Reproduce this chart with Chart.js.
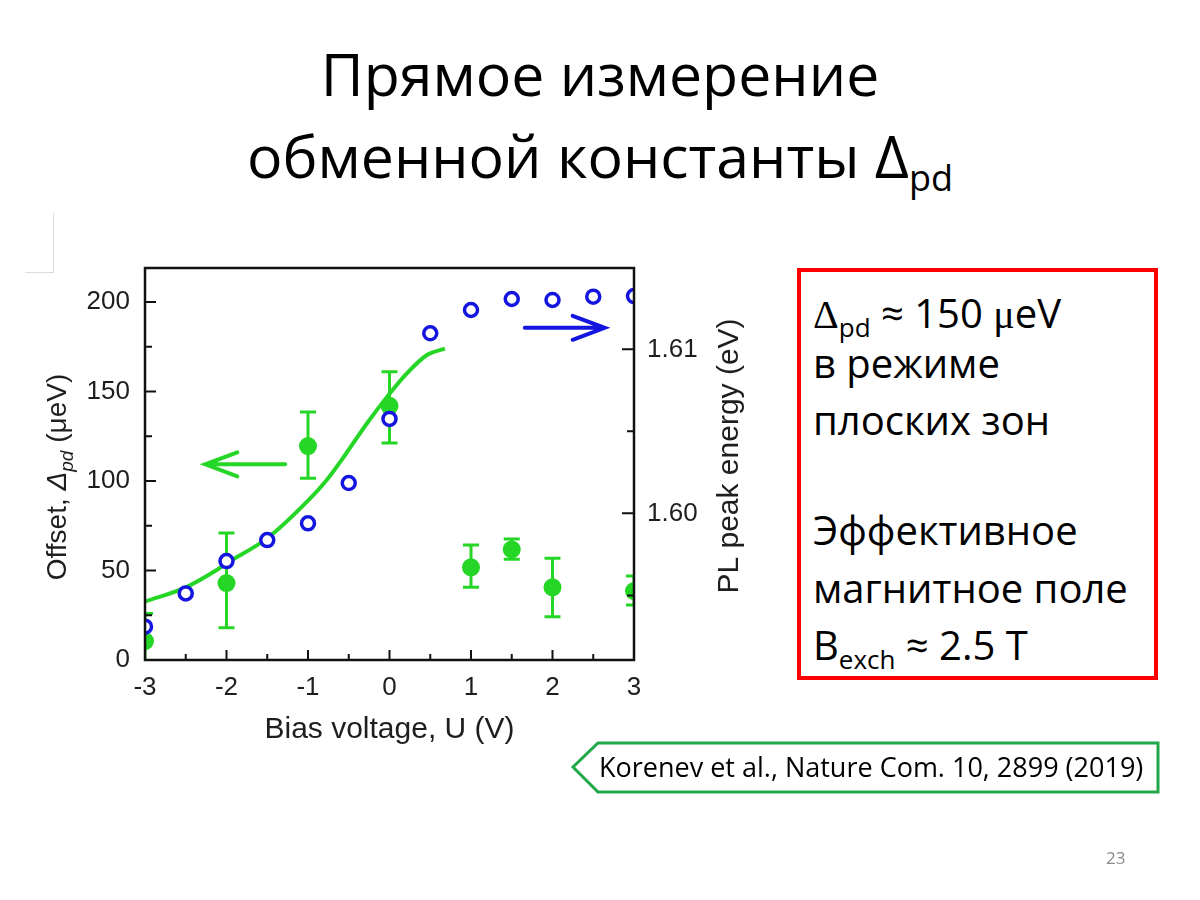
<!DOCTYPE html>
<html>
<head>
<meta charset="utf-8">
<script src="https://cdn.jsdelivr.net/npm/chart.js@4.4.0/dist/chart.umd.min.js"></script>
<style>
  body { margin: 0; width: 1200px; height: 900px; position: relative; overflow: hidden; background: #fff; font-family: "Open Sans", sans-serif; color: #000; }
  .title { position: absolute; left: 0; width: 1200px; text-align: center; font-size: 59px; line-height: 1; }
  .title sub { font-size: 36px; vertical-align: -13px; line-height: 0; }
  #chartBox { position: absolute; left: 0; top: 230px; width: 760px; height: 540px; }
  .note { position: absolute; left: 797px; top: 268px; width: 361px; height: 412px; box-sizing: border-box; border: 4px solid #ff0000; }
  .note .ln { position: absolute; left: 12px; font-size: 40px; line-height: 44px; white-space: nowrap; }
  .note sub { font-size: 26px; vertical-align: -9px; line-height: 0; }
  .sym { font-family: "Liberation Serif", serif; }
  .ref { position: absolute; left: 599px; top: 751px; font-size: 27px; line-height: 32px; white-space: nowrap; }
  .pg { position: absolute; left: 1106px; top: 846px; font-size: 17px; color: #8a8a8a; }
  .corner { position: absolute; left: 25px; top: 213px; width: 28px; height: 59px; border-right: 1px solid #ddd; border-bottom: 1px solid #ddd; }
</style>
</head>
<body>
<div class="corner"></div>
<div class="title" style="top:44px;">Прямое измерение</div>
<div class="title" style="top:126px;">обменной константы Δ<sub>pd</sub></div>

<div id="chartBox"><canvas id="grafico" width="760" height="540"></canvas></div>

<div class="note">
  <div class="ln" style="top:19px;"><span class="sym">Δ</span><sub>pd</sub> ≈ 150 <span class="sym">μ</span>eV</div>
  <div class="ln" style="top:69px;">в режиме</div>
  <div class="ln" style="top:126px;">плоских зон</div>
  <div class="ln" style="top:236px;">Эффективное</div>
  <div class="ln" style="top:294px;">магнитное поле</div>
  <div class="ln" style="top:351px;">B<sub>exch</sub> ≈ 2.5 T</div>
</div>

<svg style="position:absolute;left:0;top:0;" width="1200" height="900">
  <polygon points="573,767 598,743 1158,743 1158,792 598,792" fill="none" stroke="#21a84a" stroke-width="3"/>
</svg>
<div class="ref">Korenev et al., Nature Com. 10, 2899 (2019)</div>
<div class="pg">23</div>

<script>
// Datos
const biasX = [-3, -2.5, -2, -1.5, -1, -0.5, 0, 0.5, 1, 1.5, 2, 2.5, 3];
const peakEnergy = [1.59309, 1.59512, 1.59709, 1.59837, 1.59939, 1.60185, 1.60576, 1.61098, 1.61240, 1.61307, 1.61301, 1.61321, 1.61325];

const offsetX = [-3, -2, -1, 0, 1, 1.5, 2, 3];
const offsetVals = [10.6, 43, 119.5, 142, 51.8, 61.8, 40.6, 38.5];
const offsetHigh = [26, 71, 138.5, 161, 64.2, 67.6, 56.8, 46.9];
const offsetLow = [-4, 18, 101.5, 121.3, 40.6, 56.3, 24.2, 30.7];

const fitX = [-3, -2.5, -2.12, -2, -1.5, -1, -0.77, -0.53, -0.28, -0.03, 0.21, 0.46, 0.68];
const fitVals = [32.6, 40.6, 50.3, 54, 68, 89, 100.6, 115.5, 132, 147, 160, 170.4, 174];

const xTicks = [-3, -2, -1, 0, 1, 2, 3];
const xMinor = [-2.5, -1.5, -0.5, 0.5, 1.5, 2.5];
const leftTicks = [0, 50, 100, 150, 200];
const leftMinor = [25, 75, 125, 175];
const rightTicks = [1.60, 1.61];
const rightMinor = [1.595, 1.605];

const GREEN = '#26d626';
const BLUE = '#1515e0';
const AXIS = '#111';
const LABEL = '#1e1e1e';
const tickFont = { family: 'Liberation Sans', size: 26 };

function toXY(xs, ys) {
    return xs.map((x, i) => ({ x: x, y: ys[i] }));
}

// Marcas, barras de error, flechas y títulos de ejes
const decoraciones = {
    id: 'decoraciones',
    beforeDatasetsDraw(chart) {
        const { ctx, chartArea: a, scales } = chart;
        ctx.save();
        ctx.beginPath();
        ctx.rect(a.left, a.top, a.right - a.left, a.bottom - a.top);
        ctx.clip();
        ctx.strokeStyle = GREEN;
        ctx.lineWidth = 3;
        offsetX.forEach((x, i) => {
            const px = scales.x.getPixelForValue(x);
            const hi = scales.y.getPixelForValue(offsetHigh[i]);
            const lo = scales.y.getPixelForValue(offsetLow[i]);
            ctx.beginPath();
            ctx.moveTo(px, hi); ctx.lineTo(px, lo);
            ctx.moveTo(px - 8, hi); ctx.lineTo(px + 8, hi);
            ctx.moveTo(px - 8, lo); ctx.lineTo(px + 8, lo);
            ctx.stroke();
        });
        ctx.restore();
    },
    afterDatasetsDraw(chart) {
        const { ctx, chartArea: a, scales } = chart;
        ctx.save();

        // flechas
        function flecha(x1, x2, yv, color) {
            const p1 = scales.x.getPixelForValue(x1);
            const p2 = scales.x.getPixelForValue(x2);
            const py = scales.y.getPixelForValue(yv);
            const dir = p2 > p1 ? 1 : -1;
            ctx.strokeStyle = color;
            ctx.lineWidth = 4;
            ctx.lineCap = 'round';
            ctx.beginPath();
            ctx.moveTo(p1, py); ctx.lineTo(p2, py);
            ctx.moveTo(p2 - dir * 32, py - 12); ctx.lineTo(p2, py); ctx.lineTo(p2 - dir * 32, py + 12);
            ctx.stroke();
        }
        flecha(-1.28, -2.26, 109.3, GREEN);
        flecha(1.66, 2.64, 185.6, BLUE);

        // marco
        ctx.lineCap = 'butt';
        ctx.strokeStyle = AXIS;
        ctx.lineWidth = 2.5;
        ctx.strokeRect(a.left, a.top, a.right - a.left, a.bottom - a.top);

        // marcas hacia dentro
        ctx.lineWidth = 2;
        ctx.beginPath();
        xTicks.forEach(v => { const p = scales.x.getPixelForValue(v); ctx.moveTo(p, a.bottom); ctx.lineTo(p, a.bottom - 10); });
        xMinor.forEach(v => { const p = scales.x.getPixelForValue(v); ctx.moveTo(p, a.bottom); ctx.lineTo(p, a.bottom - 6); });
        leftTicks.forEach(v => { const p = scales.y.getPixelForValue(v); ctx.moveTo(a.left, p); ctx.lineTo(a.left + 11, p); });
        leftMinor.forEach(v => { const p = scales.y.getPixelForValue(v); ctx.moveTo(a.left, p); ctx.lineTo(a.left + 7, p); });
        rightTicks.forEach(v => { const p = scales.y2.getPixelForValue(v); ctx.moveTo(a.right, p); ctx.lineTo(a.right - 12, p); });
        rightMinor.forEach(v => { const p = scales.y2.getPixelForValue(v); ctx.moveTo(a.right, p); ctx.lineTo(a.right - 7, p); });
        ctx.stroke();

        // títulos de ejes
        ctx.fillStyle = LABEL;
        ctx.textBaseline = 'alphabetic';
        ctx.textAlign = 'center';
        ctx.font = '30px "Liberation Sans"';
        ctx.fillText('Bias voltage, U (V)', (a.left + a.right) / 2, a.bottom + 78);

        // eje izquierdo: "Offset, Δpd (μeV)"
        const partes = [
            { t: 'Offset, ', f: '28px "Liberation Sans"', dy: 0 },
            { t: 'Δ', f: 'italic 28px "Liberation Sans"', dy: 0 },
            { t: 'pd', f: 'italic 19px "Liberation Sans"', dy: 7 },
            { t: ' (μeV)', f: '28px "Liberation Sans"', dy: 0 }
        ];
        let total = 0;
        partes.forEach(p => { ctx.font = p.f; p.w = ctx.measureText(p.t).width; total += p.w; });
        ctx.save();
        ctx.translate(66, (a.top + a.bottom) / 2 + 13);
        ctx.rotate(-Math.PI / 2);
        ctx.textAlign = 'left';
        let cx = -total / 2;
        partes.forEach(p => { ctx.font = p.f; ctx.fillText(p.t, cx, p.dy); cx += p.w; });
        ctx.restore();

        // eje derecho
        ctx.save();
        ctx.translate(738, (a.top + a.bottom) / 2 - 8);
        ctx.rotate(-Math.PI / 2);
        ctx.textAlign = 'center';
        ctx.font = '30px "Liberation Sans"';
        ctx.fillText('PL peak energy (eV)', 0, 0);
        ctx.restore();

        ctx.restore();
    }
};

new Chart(document.getElementById('grafico').getContext('2d'), {
    type: 'scatter',
    data: {
        datasets: [
            {
                label: 'PL peak energy',
                data: toXY(biasX, peakEnergy),
                yAxisID: 'y2',
                showLine: false,
                pointRadius: 6.5,
                pointBorderWidth: 3.5,
                pointBackgroundColor: '#fff',
                pointBorderColor: BLUE,
                clip: 0
            },
            {
                label: 'Offset',
                data: toXY(offsetX, offsetVals),
                yAxisID: 'y',
                showLine: false,
                pointRadius: 9,
                pointBorderWidth: 0,
                pointBackgroundColor: GREEN,
                pointBorderColor: GREEN,
                clip: 0
            },
            {
                label: 'Fit',
                data: toXY(fitX, fitVals),
                yAxisID: 'y',
                showLine: true,
                borderColor: GREEN,
                borderWidth: 4,
                pointRadius: 0,
                cubicInterpolationMode: 'monotone',
                clip: 0
            }
        ]
    },
    options: {
        responsive: false,
        animation: false,
        layout: { padding: { top: 38, left: 0, right: 0, bottom: 0 } },
        plugins: { legend: { display: false }, tooltip: { enabled: false } },
        scales: {
            x: {
                type: 'linear',
                min: -3, max: 3,
                afterBuildTicks: s => { s.ticks = xTicks.map(v => ({ value: v })); },
                afterFit: s => { s.height = 110; },
                grid: { display: false, drawTicks: false },
                border: { display: false },
                ticks: { color: LABEL, font: tickFont, padding: 12, maxRotation: 0, callback: v => String(v) }
            },
            y: {
                position: 'left',
                min: 0, max: 219,
                afterBuildTicks: s => { s.ticks = leftTicks.map(v => ({ value: v })); },
                afterFit: s => { s.width = 145; },
                grid: { display: false, drawTicks: false },
                border: { display: false },
                ticks: { color: LABEL, font: tickFont, padding: 15 }
            },
            y2: {
                position: 'right',
                min: 1.59106, max: 1.61496,
                afterBuildTicks: s => { s.ticks = rightTicks.map(v => ({ value: v })); },
                afterFit: s => { s.width = 126; },
                grid: { display: false, drawTicks: false },
                border: { display: false },
                ticks: { color: LABEL, font: tickFont, padding: 13, callback: v => v.toFixed(2) }
            }
        }
    },
    plugins: [decoraciones]
});
</script>
</body>
</html>
